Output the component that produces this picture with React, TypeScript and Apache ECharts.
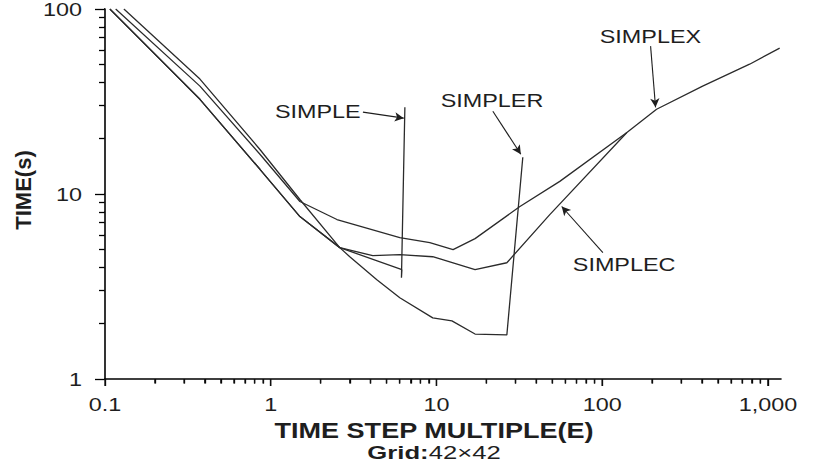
import React, { useEffect, useRef } from "react";
import * as echarts from "echarts";

// ---------- data ----------
const X_MIN = 0.1;
const X_MAX = 1200;
const Y_MIN = 1;
const Y_MAX = 100;

const xMajorTicks = [0.1, 1, 10, 100, 1000];
const xTickLabels = ["0.1", "1", "10", "100", "1,000"];
const yMajorTicks = [1, 10, 100];
const yTickLabels = ["1", "10", "100"];
const minorMultipliers = [2, 3, 4, 5, 6, 7, 8, 9];

// [time step multiple E, time (s)]
const simpleData = [
  [0.107, 100], [0.374, 32.5], [0.861, 13.6], [1.5, 7.55], [2.61, 5.13],
  [6.19, 3.9], [6.15, 3.53], [6.45, 29.4],
];
const simplerData = [
  [0.13, 100], [0.374, 41.8], [0.861, 17.4], [1.5, 9.34], [2.61, 5.13],
  [3.0, 4.58], [4.37, 3.44], [6.01, 2.75], [9.5, 2.14], [12.4, 2.06],
  [17.1, 1.75], [26.6, 1.73], [33.2, 15.8],
];
const simplecData = [
  [0.107, 100], [0.374, 32.5], [0.861, 13.6], [1.5, 7.55], [2.61, 5.13],
  [4.13, 4.64], [6.01, 4.7], [9.5, 4.58], [17.1, 3.9], [26.6, 4.25],
  [48.3, 7.74], [141, 21.5],
];
const simplexData = [
  [0.116, 100], [0.374, 38.3], [0.861, 16.4], [1.5, 9.11], [2.51, 7.28],
  [6.01, 5.81], [9.12, 5.46], [12.6, 5.0], [17.1, 5.74], [31.9, 8.56],
  [55.5, 11.7], [141, 21.5], [213, 28.7], [404, 38.3], [776, 50.3], [1178, 61.5],
];

const seriesNames = ["SIMPLE", "SIMPLER", "SIMPLEC", "SIMPLEX"];
// annotation label anchors (left-middle of text), arrow start / end, in data units
const labelAnchors = [[1.06, 27.8], [10.6, 31.9], [66.5, 4.15], [96.7, 71.4]];
const arrowStarts = [[3.6, 27.7], [21.9, 28.0], [101, 4.82], [196, 63.0]];
const arrowEnds = [[6.35, 25.7], [32.3, 16.4], [57.0, 8.56], [210, 29.4]];

const xTitle = "TIME STEP MULTIPLE(E)";
const gridBold = "Grid:";
const gridSize = "42×42";
const yTitle = "TIME(s)";

// ---------- layout / styles ----------
const W = 816;
const H = 468;
const GRID = { left: 105, right: 35, top: 9, bottom: 89 };
const FONT = "Liberation Sans, Arial, Helvetica, sans-serif";
const STRETCH = 1.3;
const INK = "#1e1e1e";
const LINE = "#2b2b2b";
const X_TICK_LEN = [4.5, 7]; // minor, major (px)
const Y_TICK_LEN = [6, 10];

const xMinorTicks: number[] = [];
xMajorTicks.slice(0, -1).forEach((v) => minorMultipliers.forEach((m) => xMinorTicks.push(v * m)));
const yMinorTicks: number[] = [];
yMajorTicks.slice(0, -1).forEach((v) => minorMultipliers.forEach((m) => yMinorTicks.push(v * m)));

// tick marks as short segments through the axes' own log scales
const xPxPerDecade = (W - GRID.left - GRID.right) / Math.log10(X_MAX / X_MIN);
const yPxPerDecade = (H - GRID.top - GRID.bottom) / Math.log10(Y_MAX / Y_MIN);
const tickSegments: any[] = [];
[...xMajorTicks.map((v) => [v, 1]), ...xMinorTicks.map((v) => [v, 0])].forEach(([v, major]) => {
  tickSegments.push([v, Y_MIN], [v, Y_MIN * Math.pow(10, -X_TICK_LEN[major] / yPxPerDecade)], ["-", "-"]);
});
[...yMajorTicks.map((v) => [v, 1]), ...yMinorTicks.map((v) => [v, 0])].forEach(([v, major]) => {
  tickSegments.push([X_MIN, v], [X_MIN * Math.pow(10, -Y_TICK_LEN[major] / xPxPerDecade), v], ["-", "-"]);
});

function textStyle(text: string, size: number, weight: string, align: string, vAlign: string) {
  return {
    text,
    fontSize: size,
    fontFamily: FONT,
    fontWeight: weight,
    fill: INK,
    align,
    verticalAlign: vAlign,
  };
}

function renderXLabel(_p: any, api: any) {
  const pt = api.coord([api.value(0), api.value(1)]);
  return {
    type: "text",
    x: pt[0],
    y: pt[1] + 26,
    scaleX: STRETCH,
    style: textStyle(xTickLabels[api.value(2)], 18, "normal", "center", "middle"),
  };
}

function renderYLabel(_p: any, api: any) {
  const pt = api.coord([api.value(0), api.value(1)]);
  return {
    type: "text",
    x: pt[0] - 23,
    y: pt[1] + 1,
    scaleX: STRETCH,
    style: textStyle(yTickLabels[api.value(2)], 18, "normal", "right", "middle"),
  };
}

function renderAnnotation(_p: any, api: any) {
  const pt = api.coord([api.value(0), api.value(1)]);
  return {
    type: "text",
    x: pt[0],
    y: pt[1],
    scaleX: STRETCH,
    style: textStyle(seriesNames[api.value(2)], 18, "normal", "left", "middle"),
  };
}

function lineSeries(name: string, data: number[][], idx: number) {
  return {
    name,
    type: "line",
    data,
    symbol: "none",
    lineStyle: { color: LINE, width: 1.3 },
    markLine: {
      symbol: ["none", "arrow"],
      symbolSize: [7, 9],
      label: { show: false },
      lineStyle: { color: INK, width: 1.1, type: "solid" },
      data: [[{ coord: arrowStarts[idx] }, { coord: arrowEnds[idx] }]],
    },
  };
}

export default function App() {
  const ref = useRef<HTMLDivElement>(null);
  useEffect(() => {
    if (!ref.current) return;
    const chart = echarts.init(ref.current, null, { renderer: "svg" });
    const base = {
      type: "log",
      splitLine: { show: false },
      axisLabel: { show: false },
    };
    chart.setOption({
      animation: false,
      grid: GRID,
      xAxis: [
        { ...base, min: X_MIN, max: X_MAX, axisLine: { lineStyle: { color: "#000", width: 1.6 } },
          axisTick: { show: true, length: X_TICK_LEN[1], customValues: xMajorTicks, lineStyle: { color: "#000", width: 1.3 } } },
        { ...base, min: X_MIN, max: X_MAX, position: "bottom", axisLine: { show: false },
          axisTick: { show: true, length: X_TICK_LEN[0], customValues: xMinorTicks, lineStyle: { color: "#000", width: 1.3 } } },
      ],
      yAxis: [
        { ...base, min: Y_MIN, max: Y_MAX, axisLine: { lineStyle: { color: "#000", width: 1.6 } },
          axisTick: { show: true, length: Y_TICK_LEN[1], customValues: yMajorTicks, lineStyle: { color: "#000", width: 1.3 } } },
        { ...base, min: Y_MIN, max: Y_MAX, position: "left", axisLine: { show: false },
          axisTick: { show: true, length: Y_TICK_LEN[0], customValues: yMinorTicks, lineStyle: { color: "#000", width: 1.3 } } },
      ],
      series: [
        lineSeries(seriesNames[0], simpleData, 0),
        lineSeries(seriesNames[1], simplerData, 1),
        lineSeries(seriesNames[2], simplecData, 2),
        lineSeries(seriesNames[3], simplexData, 3),
        {
          name: "ticks",
          type: "line",
          data: tickSegments,
          symbol: "none",
          clip: false,
          connectNulls: false,
          silent: true,
          lineStyle: { color: "#111", width: 1.3, cap: "butt" },
        },
        {
          type: "custom",
          clip: false,
          data: xMajorTicks.map((v, i) => [v, Y_MIN, i]),
          encode: { x: 0, y: 1 },
          renderItem: renderXLabel,
        },
        {
          type: "custom",
          clip: false,
          data: yMajorTicks.map((v, i) => [X_MIN, v, i]),
          encode: { x: 0, y: 1 },
          renderItem: renderYLabel,
        },
        {
          type: "custom",
          clip: false,
          data: labelAnchors.map((a, i) => [a[0], a[1], i]),
          encode: { x: 0, y: 1 },
          renderItem: renderAnnotation,
        },
      ],
      graphic: [
        {
          type: "text",
          x: 434,
          y: 430,
          scaleX: 1.23,
          style: textStyle(xTitle, 22, "bold", "center", "middle"),
        },
        {
          type: "text",
          x: 434,
          y: 453,
          scaleX: 1.35,
          style: {
            ...textStyle(`{b|${gridBold}}{r|${gridSize}}`, 19, "normal", "center", "middle"),
            rich: {
              b: { fontWeight: "bold", fontSize: 19, fontFamily: FONT, fill: INK },
              r: { fontWeight: "normal", fontSize: 19, fontFamily: FONT, fill: INK },
            },
          },
        },
        {
          type: "text",
          x: 23,
          y: 190,
          rotation: Math.PI / 2,
          style: textStyle(yTitle, 22, "bold", "center", "middle"),
        },
      ],
    });
    return () => chart.dispose();
  }, []);
  return (
    <div>
      <div ref={ref} style={{ position: "absolute", left: 0, top: 0, width: W, height: H, background: "#fff" }} />
    </div>
  );
}
